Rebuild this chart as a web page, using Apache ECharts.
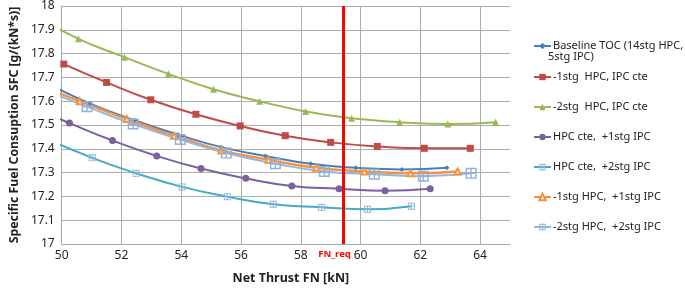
<!DOCTYPE html>
<html>
<head>
<meta charset="utf-8">
<script src="https://cdn.jsdelivr.net/npm/echarts@6/dist/echarts.min.js"></script>
<style>
  html, body { margin: 0; padding: 0; background: #fff; }
  #chart { width: 685px; height: 290px; }
</style>
</head>
<body>
<div id="chart"></div>
<script>
// values: [net thrust kN, SFC g/(kN*s)]
const seriesNames = [
  'Baseline TOC (14stg HPC, 5stg IPC)',
  '-1stg  HPC, IPC cte',
  '-2stg  HPC, IPC cte',
  'HPC cte,  +1stg IPC',
  'HPC cte,  +2stg IPC',
  '-1stg HPC,  +1stg IPC',
  '-2stg HPC,  +2stg IPC'
];
const baseline = [[49.47, 17.677], [50.95, 17.59], [52.43, 17.52], [53.9, 17.459], [55.34, 17.407], [56.82, 17.37], [58.33, 17.337], [59.84, 17.32], [61.38, 17.313], [62.89, 17.32]];
const hpcMinus1 = [[50.07, 17.756], [51.5, 17.679], [52.98, 17.606], [54.49, 17.545], [55.97, 17.496], [57.48, 17.455], [59.0, 17.427], [60.56, 17.41], [62.13, 17.402], [63.67, 17.402]];
const hpcMinus2 = [[49.02, 17.966], [50.56, 17.862], [52.1, 17.785], [53.57, 17.715], [55.08, 17.65], [56.62, 17.60], [58.16, 17.557], [59.7, 17.528], [61.31, 17.512], [62.92, 17.504], [64.52, 17.512]];
const ipcPlus1 = [[48.76, 17.587], [50.26, 17.508], [51.7, 17.435], [53.18, 17.37], [54.66, 17.317], [56.16, 17.276], [57.7, 17.244], [59.28, 17.232], [60.82, 17.224], [62.33, 17.232]];
const ipcPlus2 = [[49.5, 17.442], [51.02, 17.362], [52.49, 17.297], [54.03, 17.24], [55.54, 17.199], [57.08, 17.167], [58.69, 17.154], [60.23, 17.146], [61.7, 17.159]];
const hpcM1ipcP1 = [[49.0, 17.68], [50.6, 17.60], [52.18, 17.525], [53.76, 17.455], [55.34, 17.393], [56.92, 17.354], [58.52, 17.32], [60.13, 17.305], [61.67, 17.297], [63.25, 17.305]];
const hpcM2ipcP2 = [[49.25, 17.655], [50.85, 17.577], [52.39, 17.504], [53.97, 17.439], [55.51, 17.382], [57.15, 17.337], [58.79, 17.305], [60.46, 17.293], [62.1, 17.285], [63.7, 17.297]];
const fnReq = 59.43;

const FONT = '"Noto Sans", sans-serif';
const squarePlus = 'path://M0,0H10V10H0Z M1.3,1.3V4.4H4.4V1.3Z M5.6,1.3V4.4H8.7V1.3Z M1.3,5.6V8.7H4.4V5.6Z M5.6,5.6V8.7H8.7V5.6Z';

function mkSeries(name, data, color, symbol, size, extra) {
  return Object.assign({
    name: name,
    type: 'line',
    data: data,
    smooth: true,
    clip: true,
    symbol: symbol,
    symbolSize: size,
    lineStyle: { color: color, width: 2 },
    itemStyle: { color: color },
    emphasis: { disabled: true },
    z: 3
  }, extra || {});
}

const chart = echarts.init(document.getElementById('chart'));
chart.setOption({
  animation: false,
  textStyle: { fontFamily: FONT },
  grid: { left: 53, right: 175, top: 5, bottom: 39 },
  xAxis: {
    type: 'value', min: 50, max: 65, interval: 2,
    name: 'Net Thrust FN [kN]', nameLocation: 'middle', nameGap: 28,
    nameTextStyle: { fontSize: 12.5, fontWeight: 'bold', color: '#222', fontFamily: FONT, padding: [0, 0, 0, 10] },
    axisLine: { lineStyle: { color: '#a6a6a6' } },
    axisTick: { show: false },
    axisLabel: { fontSize: 12, color: '#222', margin: 6, showMaxLabel: false },
    splitLine: { show: true, showMaxLine: false, lineStyle: { color: '#adadad' } }
  },
  yAxis: {
    type: 'value', min: 17, max: 18, interval: 0.1,
    name: 'Specific Fuel Consuption SFC [g/(kN*s)]', nameLocation: 'middle', nameGap: 38,
    nameTextStyle: { fontSize: 12.3, fontWeight: 'bold', color: '#222', fontFamily: FONT },
    axisLine: { show: true, lineStyle: { color: '#a6a6a6' } },
    axisTick: { show: false },
    axisLabel: { fontSize: 12, color: '#222', margin: 7 },
    splitLine: { lineStyle: { color: '#adadad' } }
  },
  legend: [
    {
      data: [seriesNames[0]], left: 528, top: 34, orient: 'vertical',
      itemWidth: 17, itemHeight: 8,
      formatter: () => 'Baseline TOC (14stg HPC,',
      textStyle: { fontSize: 11, color: '#222', lineHeight: 14, padding: [0, 0, 0, -3] }
    },
    {
      data: seriesNames.slice(1), left: 528, top: 65, orient: 'vertical',
      itemWidth: 17, itemHeight: 8, itemGap: 16,
      textStyle: { fontSize: 11, color: '#222', lineHeight: 14, padding: [0, 0, 0, -3] }
    }
  ],
  graphic: [{
    type: 'text', left: 548, top: 51,
    style: { text: '5stg IPC)', fontSize: 11, fill: '#222', fontFamily: FONT }
  }],
  series: [
    mkSeries(seriesNames[0], baseline, '#4a7ebb', 'diamond', 5, {
      markLine: {
        silent: true, symbol: 'none', animation: false,
        lineStyle: { color: '#ff0000', width: 3, type: 'solid' },
        label: { show: true, position: 'start', formatter: 'FN_req', color: '#ff0000', fontSize: 9.5, fontWeight: 'bold', offset: [-9, 0] },
        data: [{ xAxis: fnReq }],
        z: 10
      }
    }),
    mkSeries(seriesNames[1], hpcMinus1, '#be4b48', 'rect', 7),
    mkSeries(seriesNames[2], hpcMinus2, '#98b954', 'triangle', 7),
    mkSeries(seriesNames[3], ipcPlus1, '#7d60a0', 'circle', 7),
    mkSeries(seriesNames[4], ipcPlus2, '#46aac5', squarePlus, 7, { itemStyle: { color: '#86b4d8' } }),
    mkSeries(seriesNames[5], hpcM1ipcP1, '#f59240', 'emptyTriangle', 6, { itemStyle: { color: '#f59240', borderColor: '#f59240', borderWidth: 1 }, lineStyle: { color: '#f59240', width: 2.5 } }),
    mkSeries(seriesNames[6], hpcM2ipcP2, '#98b6da', squarePlus, 11, { itemStyle: { color: '#8eb0da' } })
  ]
});
</script>
</body>
</html>
